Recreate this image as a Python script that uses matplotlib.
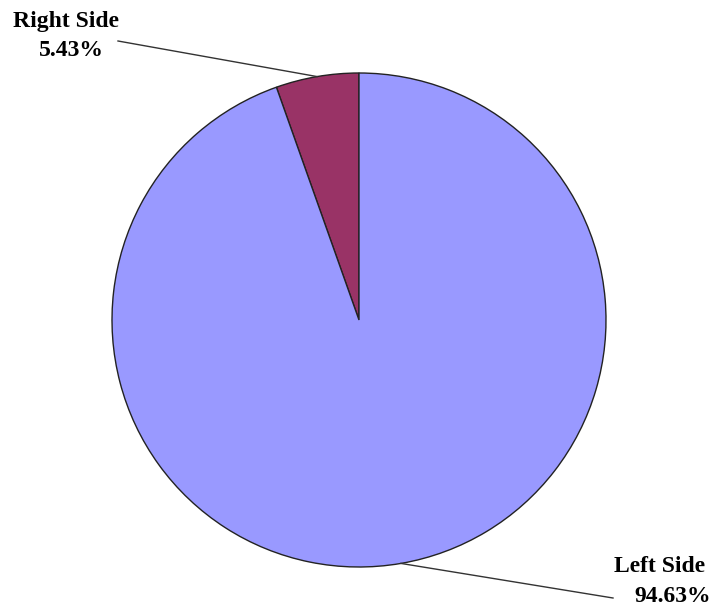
import numpy as np
import matplotlib
matplotlib.use("Agg")
import matplotlib.pyplot as plt

labels = ["Right Side", "Left Side"]
shares = [5.43, 94.63]
colors = ["#993366", "#9999FF"]

W, H = 720, 607
fig = plt.figure(figsize=(W / 100, H / 100), dpi=100)
ax = fig.add_axes([0, 0, 1, 1])
ax.set_xlim(0, W)
ax.set_ylim(0, H)
ax.axis("off")

cx, cy, r = 359, H - 320, 247
wedges, _ = ax.pie(shares, colors=colors, startangle=90, counterclock=True,
                   center=(cx, cy), radius=r, frame=True,
                   wedgeprops=dict(edgecolor="#222222", linewidth=1.0))
ax.set_xlim(0, W)
ax.set_ylim(0, H)
ax.axis("off")

font = dict(family="Liberation Serif", weight="bold", fontsize=17, color="black")

# leader line end points and label anchors (pixels from top-left)
line_ends = [(118, 41), (613, 598)]
name_pos = [(66, 22), (660, 567)]
pct_pos = [(71, 50), (673, 597)]

for w, lab, val, le, npos, ppos in zip(wedges, labels, shares, line_ends, name_pos, pct_pos):
    mid = np.deg2rad((w.theta1 + w.theta2) / 2)
    ex, ey = cx + r * np.cos(mid), cy + r * np.sin(mid)
    ax.plot([ex, le[0]], [ey, H - le[1]], color="#333333", lw=1.0)
    ax.text(npos[0], H - npos[1], lab, ha="center", va="center", **font)
    ax.text(ppos[0], H - ppos[1], f"{val:.2f}%", ha="center", va="center", **font)

fig.savefig("out.png", dpi=100, facecolor="white")
